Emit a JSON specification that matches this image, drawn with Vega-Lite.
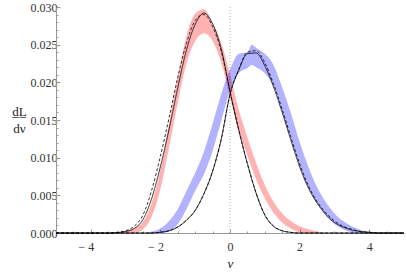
{
  "$schema": "https://vega.github.io/schema/vega-lite/v6.json",
  "autosize": {"type": "none"},
  "width": 348,
  "height": 226,
  "padding": {"left": 56, "top": 7, "right": 3, "bottom": 40},
  "config": {
    "view": {"stroke": null},
    "axis": {
      "labelFont": "Liberation Serif", "titleFont": "Liberation Serif",
      "labelColor": "#333", "titleColor": "#222",
      "domainColor": "#999", "tickColor": "#999", "grid": false,
      "domainWidth": 1, "tickWidth": 1
    }
  },
  "datasets": {
    "zero": [{"x": 0}],
    "bands": [
      {"x": -5, "g": "red", "lo": 0, "hi": 0},
      {"x": -3.5, "g": "red", "lo": 0, "hi": 0},
      {"x": -3.25, "g": "red", "lo": 0, "hi": 0.0001},
      {"x": -3, "g": "red", "lo": 0, "hi": 0.0003},
      {"x": -2.75, "g": "red", "lo": 0, "hi": 0.0007},
      {"x": -2.5, "g": "red", "lo": 0.0005, "hi": 0.0015},
      {"x": -2.25, "g": "red", "lo": 0.0022, "hi": 0.0040},
      {"x": -2, "g": "red", "lo": 0.0058, "hi": 0.0084},
      {"x": -1.75, "g": "red", "lo": 0.0114, "hi": 0.0146},
      {"x": -1.5, "g": "red", "lo": 0.0173, "hi": 0.0207},
      {"x": -1.25, "g": "red", "lo": 0.0225, "hi": 0.0262},
      {"x": -1, "g": "red", "lo": 0.0255, "hi": 0.0291},
      {"x": -0.75, "g": "red", "lo": 0.0265, "hi": 0.0297},
      {"x": -0.5, "g": "red", "lo": 0.0255, "hi": 0.0278},
      {"x": -0.25, "g": "red", "lo": 0.0226, "hi": 0.0252},
      {"x": 0, "g": "red", "lo": 0.0180, "hi": 0.0211},
      {"x": 0.25, "g": "red", "lo": 0.0136, "hi": 0.0164},
      {"x": 0.5, "g": "red", "lo": 0.0103, "hi": 0.0127},
      {"x": 0.75, "g": "red", "lo": 0.0071, "hi": 0.0093},
      {"x": 1, "g": "red", "lo": 0.0046, "hi": 0.0064},
      {"x": 1.25, "g": "red", "lo": 0.0027, "hi": 0.0041},
      {"x": 1.5, "g": "red", "lo": 0.0014, "hi": 0.0026},
      {"x": 1.75, "g": "red", "lo": 0.0006, "hi": 0.0016},
      {"x": 2, "g": "red", "lo": 0.0001, "hi": 0.0009},
      {"x": 2.25, "g": "red", "lo": 0, "hi": 0.0005},
      {"x": 2.5, "g": "red", "lo": 0, "hi": 0.0002},
      {"x": 2.75, "g": "red", "lo": 0, "hi": 0},
      {"x": 5, "g": "red", "lo": 0, "hi": 0},
      {"x": -5, "g": "blue", "lo": 0, "hi": 0},
      {"x": -2.5, "g": "blue", "lo": 0, "hi": 0},
      {"x": -2.25, "g": "blue", "lo": 0, "hi": 0.0002},
      {"x": -2, "g": "blue", "lo": 0, "hi": 0.0006},
      {"x": -1.75, "g": "blue", "lo": 0.0002, "hi": 0.0016},
      {"x": -1.5, "g": "blue", "lo": 0.0012, "hi": 0.0032},
      {"x": -1.25, "g": "blue", "lo": 0.0032, "hi": 0.0056},
      {"x": -1, "g": "blue", "lo": 0.0056, "hi": 0.0080},
      {"x": -0.75, "g": "blue", "lo": 0.0078, "hi": 0.0108},
      {"x": -0.5, "g": "blue", "lo": 0.0109, "hi": 0.0145},
      {"x": -0.25, "g": "blue", "lo": 0.0149, "hi": 0.0185},
      {"x": 0, "g": "blue", "lo": 0.0189, "hi": 0.0217},
      {"x": 0.25, "g": "blue", "lo": 0.0212, "hi": 0.0238},
      {"x": 0.5, "g": "blue", "lo": 0.0219, "hi": 0.0240},
      {"x": 0.625, "g": "blue", "lo": 0.0223, "hi": 0.0250},
      {"x": 0.75, "g": "blue", "lo": 0.0220, "hi": 0.0246},
      {"x": 1, "g": "blue", "lo": 0.0212, "hi": 0.0238},
      {"x": 1.25, "g": "blue", "lo": 0.0195, "hi": 0.0223},
      {"x": 1.5, "g": "blue", "lo": 0.0161, "hi": 0.0193},
      {"x": 1.75, "g": "blue", "lo": 0.0125, "hi": 0.0159},
      {"x": 2, "g": "blue", "lo": 0.0089, "hi": 0.0121},
      {"x": 2.25, "g": "blue", "lo": 0.0060, "hi": 0.0088},
      {"x": 2.5, "g": "blue", "lo": 0.0039, "hi": 0.0061},
      {"x": 2.75, "g": "blue", "lo": 0.0023, "hi": 0.0041},
      {"x": 3, "g": "blue", "lo": 0.0012, "hi": 0.0026},
      {"x": 3.25, "g": "blue", "lo": 0.0005, "hi": 0.0016},
      {"x": 3.5, "g": "blue", "lo": 0.0001, "hi": 0.0009},
      {"x": 3.75, "g": "blue", "lo": 0, "hi": 0.0004},
      {"x": 4, "g": "blue", "lo": 0, "hi": 0.0001},
      {"x": 4.25, "g": "blue", "lo": 0, "hi": 0},
      {"x": 5, "g": "blue", "lo": 0, "hi": 0}
    ],
    "curves": [
      {"x": -5, "s": "red-1", "y": 0},
      {"x": -3.5, "s": "red-1", "y": 0},
      {"x": -3.25, "s": "red-1", "y": 0.00005},
      {"x": -3, "s": "red-1", "y": 0.0002},
      {"x": -2.75, "s": "red-1", "y": 0.0006},
      {"x": -2.5, "s": "red-1", "y": 0.0018},
      {"x": -2.25, "s": "red-1", "y": 0.0046},
      {"x": -2, "s": "red-1", "y": 0.0088},
      {"x": -1.75, "s": "red-1", "y": 0.0138},
      {"x": -1.5, "s": "red-1", "y": 0.0193},
      {"x": -1.25, "s": "red-1", "y": 0.0243},
      {"x": -1, "s": "red-1", "y": 0.0277},
      {"x": -0.75, "s": "red-1", "y": 0.0292},
      {"x": -0.5, "s": "red-1", "y": 0.0278},
      {"x": -0.25, "s": "red-1", "y": 0.0244},
      {"x": 0, "s": "red-1", "y": 0.0188},
      {"x": 0.25, "s": "red-1", "y": 0.0137},
      {"x": 0.5, "s": "red-1", "y": 0.0092},
      {"x": 0.75, "s": "red-1", "y": 0.0053},
      {"x": 1, "s": "red-1", "y": 0.0024},
      {"x": 1.25, "s": "red-1", "y": 0.0009},
      {"x": 1.5, "s": "red-1", "y": 0.0003},
      {"x": 1.75, "s": "red-1", "y": 0.00008},
      {"x": 2, "s": "red-1", "y": 0},
      {"x": 5, "s": "red-1", "y": 0},
      {"x": -5, "s": "red-2", "y": 0},
      {"x": -3.5, "s": "red-2", "y": 0},
      {"x": -3.25, "s": "red-2", "y": 0.0001},
      {"x": -3, "s": "red-2", "y": 0.0003},
      {"x": -2.75, "s": "red-2", "y": 0.0009},
      {"x": -2.5, "s": "red-2", "y": 0.0024},
      {"x": -2.25, "s": "red-2", "y": 0.0057},
      {"x": -2, "s": "red-2", "y": 0.0102},
      {"x": -1.75, "s": "red-2", "y": 0.0153},
      {"x": -1.5, "s": "red-2", "y": 0.0207},
      {"x": -1.25, "s": "red-2", "y": 0.0252},
      {"x": -1, "s": "red-2", "y": 0.0282},
      {"x": -0.75, "s": "red-2", "y": 0.0290},
      {"x": -0.5, "s": "red-2", "y": 0.0274},
      {"x": -0.25, "s": "red-2", "y": 0.0241},
      {"x": 0, "s": "red-2", "y": 0.0188},
      {"x": 0.25, "s": "red-2", "y": 0.0137},
      {"x": 0.5, "s": "red-2", "y": 0.0092},
      {"x": 0.75, "s": "red-2", "y": 0.0053},
      {"x": 1, "s": "red-2", "y": 0.0024},
      {"x": 1.25, "s": "red-2", "y": 0.0009},
      {"x": 1.5, "s": "red-2", "y": 0.0003},
      {"x": 1.75, "s": "red-2", "y": 0.00008},
      {"x": 2, "s": "red-2", "y": 0},
      {"x": 5, "s": "red-2", "y": 0},
      {"x": -5, "s": "blue-1", "y": 0},
      {"x": -2.25, "s": "blue-1", "y": 0},
      {"x": -2, "s": "blue-1", "y": 0.0001},
      {"x": -1.75, "s": "blue-1", "y": 0.0003},
      {"x": -1.5, "s": "blue-1", "y": 0.0008},
      {"x": -1.25, "s": "blue-1", "y": 0.0017},
      {"x": -1, "s": "blue-1", "y": 0.0030},
      {"x": -0.75, "s": "blue-1", "y": 0.0052},
      {"x": -0.5, "s": "blue-1", "y": 0.0082},
      {"x": -0.25, "s": "blue-1", "y": 0.0125},
      {"x": 0, "s": "blue-1", "y": 0.0184},
      {"x": 0.25, "s": "blue-1", "y": 0.0216},
      {"x": 0.5, "s": "blue-1", "y": 0.0238},
      {"x": 0.75, "s": "blue-1", "y": 0.0239},
      {"x": 1, "s": "blue-1", "y": 0.0222},
      {"x": 1.25, "s": "blue-1", "y": 0.0194},
      {"x": 1.5, "s": "blue-1", "y": 0.0160},
      {"x": 1.75, "s": "blue-1", "y": 0.0123},
      {"x": 2, "s": "blue-1", "y": 0.0088},
      {"x": 2.25, "s": "blue-1", "y": 0.0060},
      {"x": 2.5, "s": "blue-1", "y": 0.0040},
      {"x": 2.75, "s": "blue-1", "y": 0.0025},
      {"x": 3, "s": "blue-1", "y": 0.0014},
      {"x": 3.25, "s": "blue-1", "y": 0.0008},
      {"x": 3.5, "s": "blue-1", "y": 0.0004},
      {"x": 3.75, "s": "blue-1", "y": 0.0002},
      {"x": 4, "s": "blue-1", "y": 0.0001},
      {"x": 4.25, "s": "blue-1", "y": 0},
      {"x": 5, "s": "blue-1", "y": 0},
      {"x": -5, "s": "blue-2", "y": 0},
      {"x": -2.25, "s": "blue-2", "y": 0},
      {"x": -2, "s": "blue-2", "y": 0.0001},
      {"x": -1.75, "s": "blue-2", "y": 0.0003},
      {"x": -1.5, "s": "blue-2", "y": 0.0008},
      {"x": -1.25, "s": "blue-2", "y": 0.0017},
      {"x": -1, "s": "blue-2", "y": 0.0030},
      {"x": -0.75, "s": "blue-2", "y": 0.0052},
      {"x": -0.5, "s": "blue-2", "y": 0.0082},
      {"x": -0.25, "s": "blue-2", "y": 0.0125},
      {"x": 0, "s": "blue-2", "y": 0.0184},
      {"x": 0.25, "s": "blue-2", "y": 0.0217},
      {"x": 0.5, "s": "blue-2", "y": 0.0240},
      {"x": 0.75, "s": "blue-2", "y": 0.0242},
      {"x": 1, "s": "blue-2", "y": 0.0226},
      {"x": 1.25, "s": "blue-2", "y": 0.0198},
      {"x": 1.5, "s": "blue-2", "y": 0.0164},
      {"x": 1.75, "s": "blue-2", "y": 0.0127},
      {"x": 2, "s": "blue-2", "y": 0.0092},
      {"x": 2.25, "s": "blue-2", "y": 0.0063},
      {"x": 2.5, "s": "blue-2", "y": 0.0042},
      {"x": 2.75, "s": "blue-2", "y": 0.0027},
      {"x": 3, "s": "blue-2", "y": 0.0016},
      {"x": 3.25, "s": "blue-2", "y": 0.0009},
      {"x": 3.5, "s": "blue-2", "y": 0.0005},
      {"x": 3.75, "s": "blue-2", "y": 0.0002},
      {"x": 4, "s": "blue-2", "y": 0.0001},
      {"x": 4.25, "s": "blue-2", "y": 0},
      {"x": 5, "s": "blue-2", "y": 0}
    ]
  },
  "layer": [
    {
      "data": {"name": "zero"},
      "mark": {"type": "rule", "color": "#b0b0b0", "strokeDash": [1, 2], "strokeWidth": 1},
      "encoding": {
        "x": {"field": "x", "type": "quantitative", "scale": {"domain": [-5, 5], "nice": false, "zero": false}, "axis": null}
      }
    },
    {
      "data": {"name": "bands"},
      "mark": {"type": "area", "interpolate": "monotone", "opacity": 0.3},
      "encoding": {
        "x": {"field": "x", "type": "quantitative", "scale": {"domain": [-5, 5], "nice": false, "zero": false},
          "axis": {"values": [-4, -2, 0, 2, 4], "tickSize": -4, "labelPadding": 12, "labelFontSize": 12,
            "labelExpr": "datum.value < 0 ? '− ' + abs(datum.value) : datum.label",
            "labelAlign": {"condition": {"test": "datum.value < 0", "value": "right"}, "value": "center"},
            "labelOffset": {"condition": {"test": "datum.value < 0", "value": 3}, "value": 0},
            "title": "ν", "titleFontStyle": "italic", "titleFontSize": 13, "titleFontWeight": "normal", "titlePadding": 5, "orient": "bottom"}},
        "y": {"field": "lo", "type": "quantitative", "stack": null, "scale": {"domain": [0, 0.03], "nice": false},
          "axis": {"values": [0, 0.005, 0.01, 0.015, 0.02, 0.025, 0.03], "format": ".3f", "tickSize": -4, "labelPadding": 3, "labelFontSize": 12,
            "title": ["\u2009d\u0332L\u0332\u2009", "dν"], "titleAngle": 0, "titleFontSize": 13, "titleFontWeight": "normal", "titleAlign": "center", "titleBaseline": "middle", "titleX": -37, "titleY": 104, "titleLineHeight": 17, "orient": "left"}},
        "y2": {"field": "hi"},
        "color": {"field": "g", "type": "nominal", "scale": {"domain": ["red", "blue"], "range": ["#ff0000", "#0000ff"]}, "legend": null}
      }
    },
    {
      "data": {"name": "curves"},
      "mark": {"type": "line", "interpolate": "monotone", "color": "#000", "strokeWidth": 0.8},
      "encoding": {
        "x": {"field": "x", "type": "quantitative", "scale": {"domain": [-5, 5], "nice": false, "zero": false},
          "axis": {"values": [-4.5, -3.5, -3, -2.5, -1.5, -1, -0.5, 0.5, 1, 1.5, 2.5, 3, 3.5, 4.5], "tickSize": -2, "labels": false, "domain": false, "title": null, "orient": "bottom"}},
        "y": {"field": "y", "type": "quantitative", "scale": {"domain": [0, 0.03], "nice": false},
          "axis": {"values": [0.001, 0.002, 0.003, 0.004, 0.006, 0.007, 0.008, 0.009, 0.011, 0.012, 0.013, 0.014, 0.016, 0.017, 0.018, 0.019, 0.021, 0.022, 0.023, 0.024, 0.026, 0.027, 0.028, 0.029], "tickSize": -2, "labels": false, "domain": false, "title": null, "orient": "left"}},
        "detail": {"field": "s", "type": "nominal"},
        "strokeDash": {"field": "s", "type": "nominal", "scale": {"domain": ["red-1", "red-2", "blue-1", "blue-2"], "range": [[1, 0], [3, 2], [1, 0], [3, 2]]}, "legend": null}
      }
    }
  ],
  "resolve": {"axis": {"x": "independent", "y": "independent"}}
}
